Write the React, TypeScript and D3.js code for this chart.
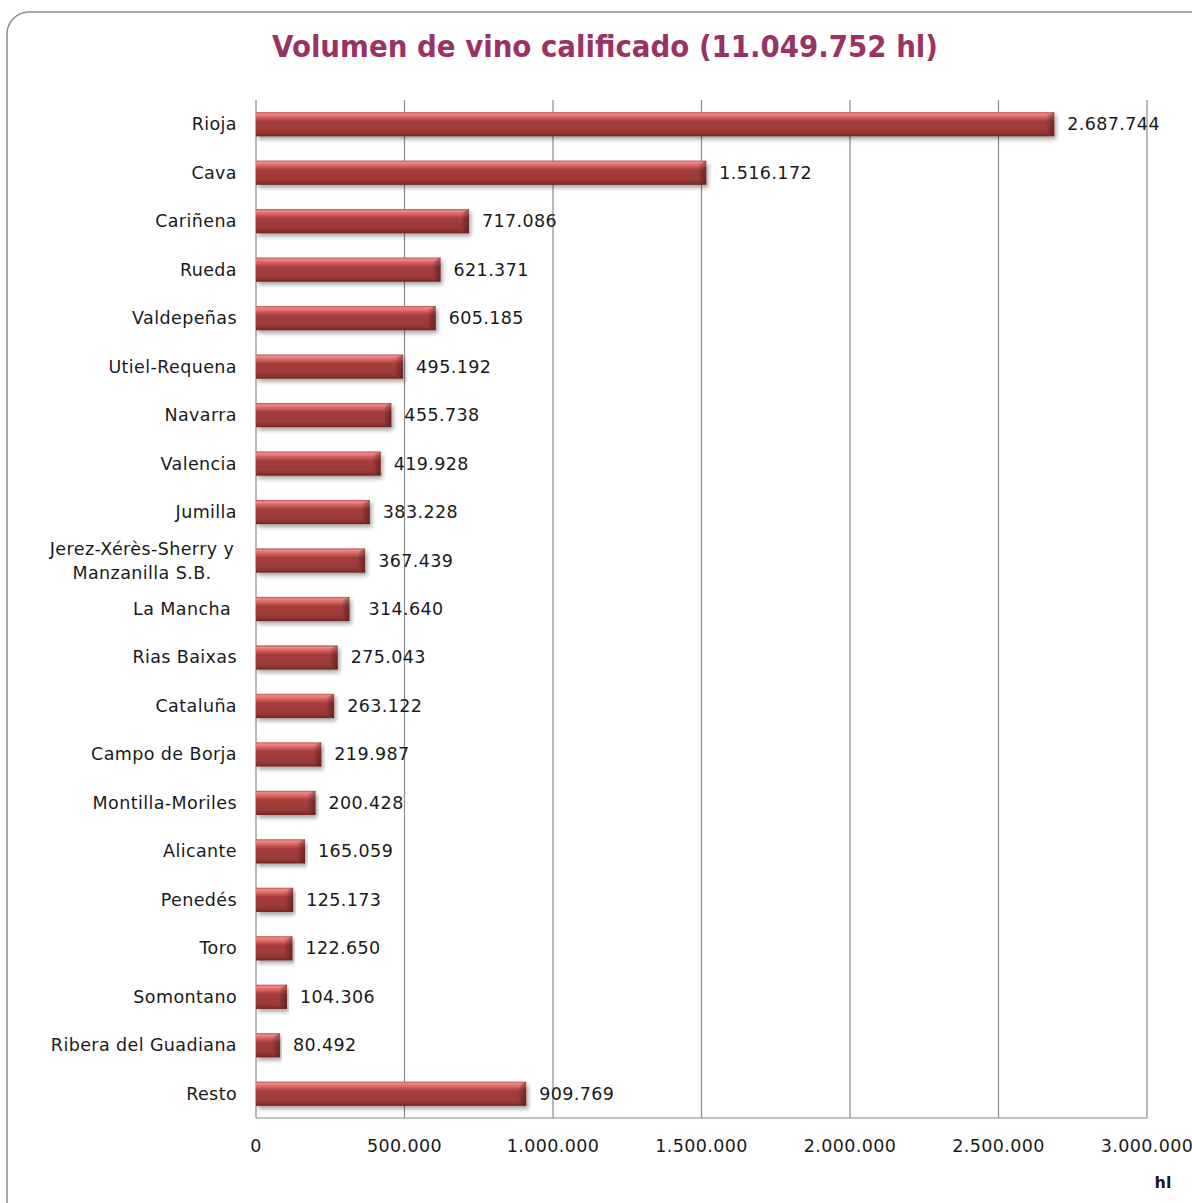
import React from 'react';
import * as d3 from 'd3';

const categories = [
  'Rioja', 'Cava', 'Cariñena', 'Rueda', 'Valdepeñas', 'Utiel-Requena', 'Navarra',
  'Valencia', 'Jumilla', 'Jerez-Xérès-Sherry y|Manzanilla S.B.', 'La Mancha ',
  'Rias Baixas', 'Cataluña', 'Campo de Borja', 'Montilla-Moriles', 'Alicante',
  'Penedés', 'Toro', 'Somontano', 'Ribera del Guadiana', 'Resto',
];
const values = [
  2687744, 1516172, 717086, 621371, 605185, 495192, 455738, 419928, 383228,
  367439, 314640, 275043, 263122, 219987, 200428, 165059, 125173, 122650,
  104306, 80492, 909769,
];
const valueLabels = [
  '2.687.744', '1.516.172', '717.086', '621.371', '605.185', '495.192', '455.738',
  '419.928', '383.228', '367.439', ' 314.640', '275.043', '263.122', '219.987',
  '200.428', '165.059', '125.173', '122.650', '104.306', '80.492', '909.769',
];
const ticks = [0, 500000, 1000000, 1500000, 2000000, 2500000, 3000000];
const tickLabels = ['0', '500.000', '1.000.000', '1.500.000', '2.000.000', '2.500.000', '3.000.000'];
const title = 'Volumen de vino calificado (11.049.752 hl)';
const unit = 'hl';

const W = 1192;
const H = 1203;
const margin = { top: 100, right: 45, bottom: 85, left: 256 };
const font = '"DejaVu Sans", Verdana, sans-serif';
const ls = 0.4;

export default function App() {
  const x = d3.scaleLinear().domain([0, 3000000]).range([margin.left, W - margin.right]);
  const y = d3
    .scaleBand()
    .domain(categories)
    .range([margin.top, H - margin.bottom])
    .paddingInner(0.5)
    .paddingOuter(0.25);
  const bottom = H - margin.bottom;
  const bh = y.bandwidth();

  return (
    <div style={{ position: 'absolute', left: 0, top: 0 }}>
      <svg width={W} height={H} style={{ display: 'block' }}>
        <defs>
          <linearGradient id="barGrad" x1="0" y1="0" x2="0" y2="1">
            <stop offset="0" stopColor="#c0504d" />
            <stop offset="0.08" stopColor="#ee8a88" />
            <stop offset="0.2" stopColor="#d86664" />
            <stop offset="0.38" stopColor="#a53d3b" />
            <stop offset="0.85" stopColor="#9a3937" />
            <stop offset="1" stopColor="#6e2422" />
          </linearGradient>
          <linearGradient id="endGrad" x1="0" y1="0" x2="1" y2="0">
            <stop offset="0" stopColor="#000" stopOpacity="0" />
            <stop offset="1" stopColor="#3a0f0e" stopOpacity="0.45" />
          </linearGradient>
          <filter id="shadow" x="-5%" y="-30%" width="110%" height="180%">
            <feGaussianBlur in="SourceAlpha" stdDeviation="2" />
            <feOffset dx="2" dy="3" result="b" />
            <feComponentTransfer>
              <feFuncA type="linear" slope="0.35" />
            </feComponentTransfer>
            <feMerge>
              <feMergeNode />
              <feMergeNode in="SourceGraphic" />
            </feMerge>
          </filter>
        </defs>

        <rect x={7} y={12} width={W + 20} height={H + 20} rx={22} ry={22}
          fill="#fff" stroke="#8c8c8c" strokeWidth={1.5} />

        <text x={605} y={57} textAnchor="middle" fontFamily={font} fontWeight="bold"
          fontSize={30} fill="#993366" textLength={666} lengthAdjust="spacingAndGlyphs">
          {title}
        </text>

        {ticks.map((t) => (
          <line key={t} x1={x(t)} x2={x(t)} y1={margin.top} y2={bottom}
            stroke="#8c8c8c" strokeWidth={1.2} />
        ))}
        <line x1={x(0)} x2={x(3000000)} y1={bottom} y2={bottom} stroke="#8c8c8c" strokeWidth={1.2} />

        {categories.map((c, i) => {
          const y0 = y(c)!;
          const x1 = x(values[i]);
          const w = x1 - x(0);
          const bev = Math.min(8, w / 3);
          return (
            <g key={c} filter="url(#shadow)">
              <rect x={x(0)} y={y0} width={w} height={bh} fill="url(#barGrad)" />
              <polygon
                points={`${x1 - bev},${y0 + 4} ${x1},${y0} ${x1},${y0 + bh} ${x1 - bev},${y0 + bh - 4}`}
                fill="url(#endGrad)"
              />
              <line x1={x(0)} x2={x1 - bev} y1={y0 + bh - 4} y2={y0 + bh - 4}
                stroke="#7a2a28" strokeOpacity={0.35} />
            </g>
          );
        })}

        {categories.map((c, i) => {
          const cy = y(c)! + bh / 2;
          const lines = c.split('|');
          return (
            <text key={c} x={237} textAnchor="end" fontFamily={font} fontSize={17.5}
              letterSpacing={ls} fill="#1a1a1a" style={{ whiteSpace: 'pre' }}>
              {lines.map((l, k) => (
                <tspan key={k} x={lines.length > 1 ? 142 : 237}
                  textAnchor={lines.length > 1 ? 'middle' : 'end'}
                  y={cy + 6 + (k - (lines.length - 1) / 2) * 24}>
                  {l}
                </tspan>
              ))}
            </text>
          );
        })}

        {categories.map((c, i) => (
          <text key={c} x={x(values[i]) + 13} y={y(c)! + bh / 2 + 6} fontFamily={font}
            fontSize={17.5} letterSpacing={ls} fill="#1a1a1a" style={{ whiteSpace: 'pre' }}>
            {valueLabels[i]}
          </text>
        ))}

        {ticks.map((t, i) => (
          <text key={t} x={x(t)} y={bottom + 34} textAnchor="middle" fontFamily={font}
            fontSize={17.5} letterSpacing={ls} fill="#1a1a1a">
            {tickLabels[i]}
          </text>
        ))}

        <text x={1163} y={1188} textAnchor="middle" fontFamily={font} fontWeight="bold"
          fontSize={16} fill="#1a1a1a">
          {unit}
        </text>
      </svg>
    </div>
  );
}
